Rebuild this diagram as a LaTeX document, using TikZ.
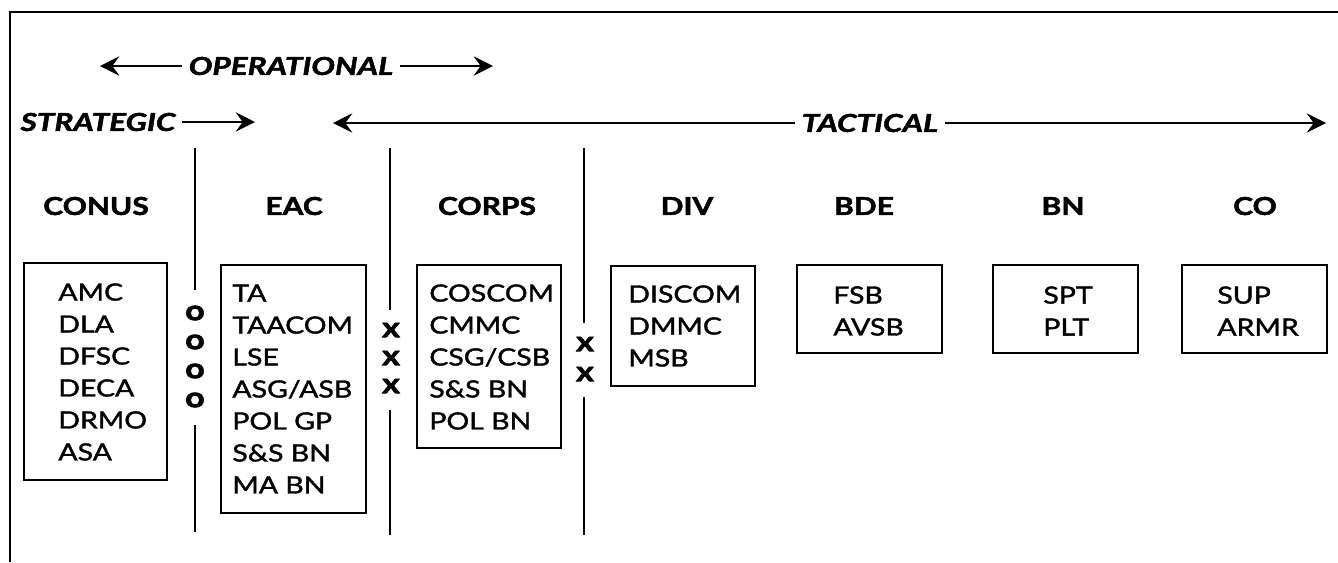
\documentclass[tikz,border=0pt]{standalone}
\usepackage{fontspec}
\setmainfont{Lato}
\newfontfamily\unitfont{Lato}[FakeStretch=1.2, FakeBold=1.5]
\newfontfamily\headfont{Lato}[FakeStretch=1.22, BoldFeatures={FakeBold=2}]
\newfontfamily\levelfont{Lato}[FakeStretch=1.28, BoldItalicFeatures={FakeBold=2}]
\usetikzlibrary{arrows.meta}
\usetikzlibrary{positioning}

\tikzset{
  head/.style={font=\fontsize{14}{17}\selectfont\headfont\bfseries},
  level/.style={font=\fontsize{14}{17}\selectfont\levelfont\bfseries\itshape, inner sep=3.5pt},
  arr/.style={line width=1pt},
  unitbox/.style={line width=1.4pt},
  unitlist/.style={font=\fontsize{13.5}{18.2}\selectfont\unitfont, align=left, anchor=west, inner sep=0pt},
  sep/.style={line width=1.1pt},
  linksign/.style={font=\fontsize{16}{16}\selectfont\headfont\bfseries, inner sep=0pt},
}

\begin{document}
\begin{tikzpicture}[x=0.02cm, y=-0.02cm, >={Stealth[length=11pt,width=11pt,inset=4pt]}]
  \useasboundingbox (0,0) rectangle (1338,562);
  % draw frame
  \draw[line width=1.6pt] (10,562) -- (10,12) -- (1338,12);

  % draw levels of support
  \node[level] (operational) at (291,66) {OPERATIONAL};
  \coordinate (opleft) at (100,66);
  \coordinate (opright) at (493,66);
  \draw[->, arr] (operational) -- (opleft);
  \draw[->, arr] (operational) -- (opright);

  \node[level] (strategic) at (98,122) {STRATEGIC};
  \coordinate (stratend) at (255,122);
  \draw[->, arr] (strategic) -- (stratend);

  \node[level] (tactical) at (870,123) {TACTICAL};
  \coordinate (tacleft) at (333,123);
  \coordinate (tacright) at (1326,123);
  \draw[->, arr] (tactical) -- (tacleft);
  \draw[->, arr] (tactical) -- (tacright);

  % draw echelon headings
  \node[head] (conus) at (96,206) {CONUS};
  \node[head] (eac) at (294,206) {EAC};
  \node[head] (corps) at (487,206) {CORPS};
  \node[head] (div) at (687,206) {DIV};
  \node[head] (bde) at (864,206) {BDE};
  \node[head] (bn) at (1063,206) {BN};
  \node[head] (co) at (1255,206) {CO};

  % draw boundaries
  \draw[sep] (195,148) -- (195,290);
  \draw[sep] (195,425) -- (195,532);
  \foreach \y in {313,342,371,400}
    \node[linksign] at (195,\y) {o};
  \draw[sep] (390,148) -- (390,310);
  \draw[sep] (390,410) -- (390,535);
  \foreach \y in {330,358,386}
    \node[linksign] at (391,\y) {x};
  \draw[sep] (584,148) -- (584,323);
  \draw[sep] (584,397) -- (584,535);
  \foreach \y in {344,374}
    \node[linksign] at (585,\y) {x};

  % draw units
  \draw[unitbox] (24,263) rectangle (167,480);
  \node[unitlist] (conuslist) at (58,372) {AMC\\DLA\\DFSC\\DECA\\DRMO\\ASA};

  \draw[unitbox] (221,265) rectangle (366,513);
  \node[unitlist] (eaclist) at (232,389) {TA\\TAACOM\\LSE\\ASG/ASB\\POL GP\\S\&S BN\\MA BN};

  \draw[unitbox] (417,265) rectangle (561,448);
  \node[unitlist] (corpslist) at (429,357) {COSCOM\\CMMC\\CSG/CSB\\S\&S BN\\POL BN};

  \draw[unitbox] (611,266) rectangle (755,386);
  \node[unitlist] (divlist) at (628,326) {DISCOM\\DMMC\\MSB};

  \draw[unitbox] (797,265) rectangle (942,353);
  \node[unitlist] (bdelist) at (833,311) {FSB\\AVSB};

  \draw[unitbox] (993,265) rectangle (1138,353);
  \node[unitlist] (bnlist) at (1043,311) {SPT\\PLT};

  \draw[unitbox] (1182,265) rectangle (1327,353);
  \node[unitlist] (colist) at (1217,311) {SUP\\ARMR};
\end{tikzpicture}
\end{document}
